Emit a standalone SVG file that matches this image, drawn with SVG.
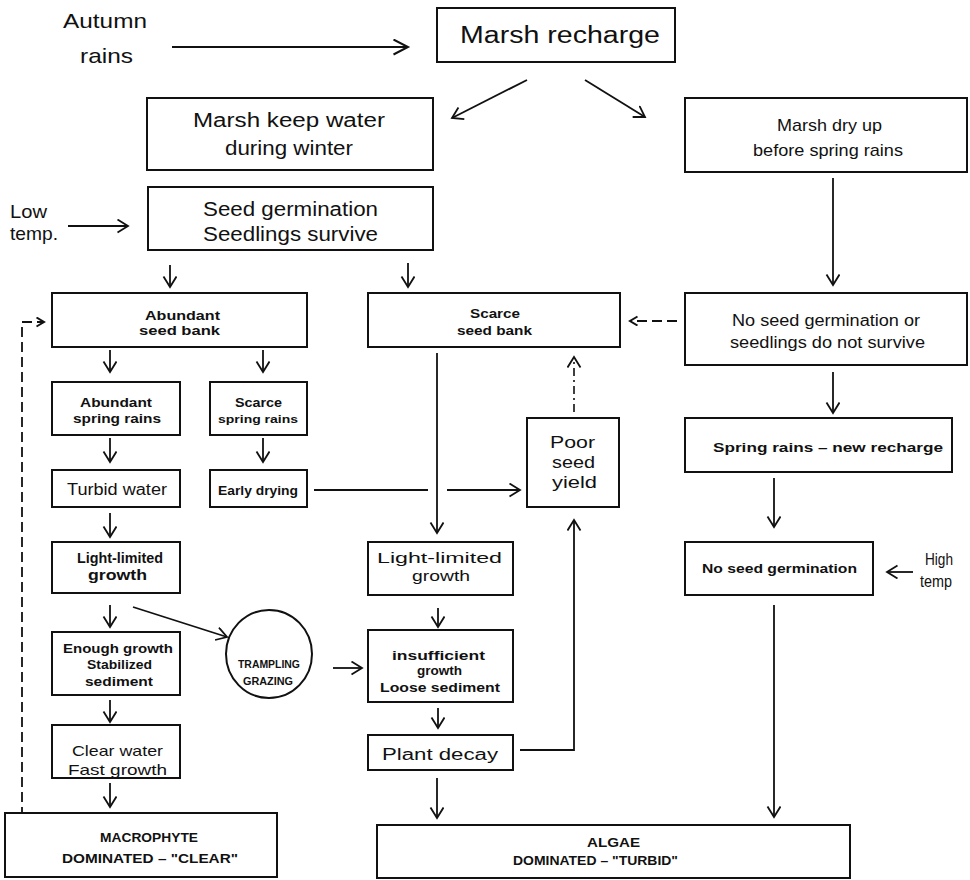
<svg xmlns="http://www.w3.org/2000/svg" width="970" height="880" viewBox="0 0 970 880">
  <defs>
    <style>
      .box { fill: #fff; stroke: #111; stroke-width: 2; }
      .ln { fill: none; stroke: #111; stroke-width: 1.8; }
      .dash { fill: none; stroke: #111; stroke-width: 1.8; stroke-dasharray: 10 5; }
      .dashdot { fill: none; stroke: #111; stroke-width: 1.6; stroke-dasharray: 8 4 2 4; }
      text { font-family: "Liberation Sans", Arial, sans-serif; fill: #111; text-anchor: middle; }
      .s { font-weight: bold; }
      .l { text-anchor: start; }
    </style>
    <marker id="ah" markerUnits="userSpaceOnUse" markerWidth="14" markerHeight="16" refX="11" refY="7" orient="auto">
      <path d="M0.5,0.5 L11,7 L0.5,13.5" fill="none" stroke="#111" stroke-width="1.8"/>
    </marker>
    <marker id="ahb" markerUnits="userSpaceOnUse" markerWidth="18" markerHeight="18" refX="15" refY="8" orient="auto">
      <path d="M0.5,0.5 L15,8 L0.5,15.5" fill="none" stroke="#111" stroke-width="2"/>
    </marker>
    <marker id="ahs" markerUnits="userSpaceOnUse" markerWidth="12" markerHeight="12" refX="8" refY="5" orient="auto">
      <path d="M0.5,0.5 L8,5 L0.5,9.5" fill="none" stroke="#111" stroke-width="2"/>
    </marker>
  </defs>
  <rect width="970" height="880" fill="#fff"/>

  <!-- connectors -->
  <g id="connectors">
    <line class="ln" x1="172" y1="47" x2="408" y2="47" marker-end="url(#ahb)"/>
    <line class="ln" x1="527" y1="80" x2="452" y2="118" marker-end="url(#ah)"/>
    <line class="ln" x1="585" y1="80" x2="645" y2="117" marker-end="url(#ah)"/>
    <line class="ln" x1="68" y1="226" x2="128" y2="226" marker-end="url(#ah)"/>
    <line class="ln" x1="833" y1="178" x2="833" y2="285" marker-end="url(#ah)"/>
    <line class="ln" x1="170" y1="265" x2="170" y2="287" marker-end="url(#ah)"/>
    <line class="ln" x1="408" y1="263" x2="408" y2="287" marker-end="url(#ah)"/>
    <line class="ln" x1="110" y1="350" x2="110" y2="372" marker-end="url(#ah)"/>
    <line class="ln" x1="263" y1="350" x2="263" y2="372" marker-end="url(#ah)"/>
    <line class="ln" x1="110" y1="438" x2="110" y2="462" marker-end="url(#ah)"/>
    <line class="ln" x1="263" y1="438" x2="263" y2="462" marker-end="url(#ah)"/>
    <!-- early drying to poor seed yield, broken where it crosses the vertical line -->
    <line class="ln" x1="314" y1="490" x2="428" y2="490"/>
    <line class="ln" x1="447" y1="490" x2="520" y2="490" marker-end="url(#ah)"/>
    <line class="ln" x1="437" y1="353" x2="437" y2="533" marker-end="url(#ah)"/>
    <line class="dashdot" x1="574" y1="412" x2="574" y2="357" marker-end="url(#ah)"/>
    <line class="dash" x1="677" y1="321" x2="630" y2="321" marker-end="url(#ahs)"/>
    <line class="ln" x1="833" y1="372" x2="833" y2="413" marker-end="url(#ah)"/>
    <line class="ln" x1="774" y1="478" x2="774" y2="527" marker-end="url(#ah)"/>
    <line class="ln" x1="913" y1="572" x2="887" y2="572" marker-end="url(#ah)"/>
    <line class="ln" x1="774" y1="605" x2="774" y2="817" marker-end="url(#ah)"/>
    <line class="ln" x1="110" y1="513" x2="110" y2="537" marker-end="url(#ah)"/>
    <line class="ln" x1="110" y1="605" x2="110" y2="627" marker-end="url(#ah)"/>
    <line class="ln" x1="133" y1="607" x2="227" y2="637" marker-end="url(#ah)"/>
    <line class="ln" x1="110" y1="700" x2="110" y2="722" marker-end="url(#ah)"/>
    <line class="ln" x1="110" y1="783" x2="110" y2="807" marker-end="url(#ah)"/>
    <path class="dash" d="M22,817 V322 H44" marker-end="url(#ahs)"/>
    <line class="ln" x1="333" y1="668" x2="362" y2="668" marker-end="url(#ah)"/>
    <line class="ln" x1="438" y1="608" x2="438" y2="627" marker-end="url(#ah)"/>
    <line class="ln" x1="438" y1="708" x2="438" y2="728" marker-end="url(#ah)"/>
    <path class="ln" d="M520,750 H574 V520" marker-end="url(#ah)"/>
    <line class="ln" x1="437" y1="778" x2="437" y2="818" marker-end="url(#ah)"/>
  </g>

  <!-- free labels -->
  <g id="autumn-rains">
    <text x="105" y="28" font-size="21" textLength="84" lengthAdjust="spacingAndGlyphs">Autumn</text>
    <text x="106.5" y="63" font-size="21" textLength="53" lengthAdjust="spacingAndGlyphs">rains</text>
  </g>
  <g id="low-temp">
    <text class="l" x="10" y="218" font-size="19" textLength="37" lengthAdjust="spacingAndGlyphs">Low</text>
    <text class="l" x="10" y="240" font-size="19" textLength="48" lengthAdjust="spacingAndGlyphs">temp.</text>
  </g>
  <g id="high-temp">
    <text class="l" x="925" y="565" font-size="17" textLength="28" lengthAdjust="spacingAndGlyphs">High</text>
    <text class="l" x="920" y="587" font-size="17" textLength="32" lengthAdjust="spacingAndGlyphs">temp</text>
  </g>

  <!-- nodes -->
  <g id="marsh-recharge">
    <rect class="box" x="437" y="8" width="238" height="54"/>
    <text x="560" y="43" font-size="23" textLength="200" lengthAdjust="spacingAndGlyphs">Marsh recharge</text>
  </g>
  <g id="marsh-keep-water">
    <rect class="box" x="147" y="98" width="286" height="72"/>
    <text x="289" y="127" font-size="20" textLength="192" lengthAdjust="spacingAndGlyphs">Marsh keep water</text>
    <text x="289" y="155" font-size="20" textLength="128" lengthAdjust="spacingAndGlyphs">during winter</text>
  </g>
  <g id="marsh-dry-up">
    <rect class="box" x="685" y="98" width="282" height="74"/>
    <text x="829.5" y="131" font-size="17" textLength="105" lengthAdjust="spacingAndGlyphs">Marsh dry up</text>
    <text x="828" y="156" font-size="17" textLength="150" lengthAdjust="spacingAndGlyphs">before spring rains</text>
  </g>
  <g id="seed-germination">
    <rect class="box" x="148" y="187" width="285" height="63"/>
    <text x="290.5" y="216" font-size="20" textLength="175" lengthAdjust="spacingAndGlyphs">Seed germination</text>
    <text x="290.5" y="241" font-size="20" textLength="175" lengthAdjust="spacingAndGlyphs">Seedlings survive</text>
  </g>
  <g id="abundant-seed-bank">
    <rect class="box" x="52" y="293" width="255" height="54"/>
    <text class="s" x="182.5" y="320" font-size="12" textLength="75" lengthAdjust="spacingAndGlyphs">Abundant</text>
    <text class="s" x="179.5" y="335" font-size="12" textLength="81" lengthAdjust="spacingAndGlyphs">seed bank</text>
  </g>
  <g id="scarce-seed-bank">
    <rect class="box" x="368" y="293" width="252" height="54"/>
    <text class="s" x="495" y="318" font-size="12" textLength="50" lengthAdjust="spacingAndGlyphs">Scarce</text>
    <text class="s" x="494.5" y="335" font-size="12" textLength="75" lengthAdjust="spacingAndGlyphs">seed bank</text>
  </g>
  <g id="no-germination-or-survival">
    <rect class="box" x="685" y="293" width="282" height="72"/>
    <text x="826" y="326" font-size="16" textLength="188" lengthAdjust="spacingAndGlyphs">No seed germination or</text>
    <text x="827.5" y="348" font-size="16" textLength="195" lengthAdjust="spacingAndGlyphs">seedlings do not survive</text>
  </g>
  <g id="abundant-spring-rains">
    <rect class="box" x="52" y="382" width="128" height="53"/>
    <text class="s" x="116" y="407" font-size="12" textLength="72" lengthAdjust="spacingAndGlyphs">Abundant</text>
    <text class="s" x="117" y="423" font-size="12" textLength="88" lengthAdjust="spacingAndGlyphs">spring rains</text>
  </g>
  <g id="scarce-spring-rains">
    <rect class="box" x="210" y="382" width="97" height="53"/>
    <text class="s" x="258.5" y="407" font-size="12" textLength="47" lengthAdjust="spacingAndGlyphs">Scarce</text>
    <text class="s" x="258" y="423" font-size="11" textLength="80" lengthAdjust="spacingAndGlyphs">spring rains</text>
  </g>
  <g id="turbid-water">
    <rect class="box" x="52" y="470" width="128" height="37"/>
    <text x="117" y="495" font-size="16" textLength="100" lengthAdjust="spacingAndGlyphs">Turbid water</text>
  </g>
  <g id="early-drying">
    <rect class="box" x="210" y="470" width="97" height="37"/>
    <text class="s" x="258" y="495" font-size="12" textLength="80" lengthAdjust="spacingAndGlyphs">Early drying</text>
  </g>
  <g id="poor-seed-yield">
    <rect class="box" x="527" y="418" width="92" height="89"/>
    <text x="572.5" y="448" font-size="17" textLength="45" lengthAdjust="spacingAndGlyphs">Poor</text>
    <text x="573.5" y="468" font-size="17" textLength="43" lengthAdjust="spacingAndGlyphs">seed</text>
    <text x="574.5" y="488" font-size="17" textLength="45" lengthAdjust="spacingAndGlyphs">yield</text>
  </g>
  <g id="spring-rains-recharge">
    <rect class="box" x="685" y="418" width="267" height="54"/>
    <text class="s" x="828" y="452" font-size="13" textLength="230" lengthAdjust="spacingAndGlyphs">Spring rains – new recharge</text>
  </g>
  <g id="light-limited-left">
    <rect class="box" x="52" y="542" width="128" height="51"/>
    <text class="s" x="120" y="563" font-size="14" textLength="86" lengthAdjust="spacingAndGlyphs">Light-limited</text>
    <text class="s" x="117.5" y="580" font-size="14" textLength="59" lengthAdjust="spacingAndGlyphs">growth</text>
  </g>
  <g id="light-limited-middle">
    <rect class="box" x="368" y="542" width="145" height="53"/>
    <text x="439.5" y="563" font-size="15" textLength="125" lengthAdjust="spacingAndGlyphs">Light-limited</text>
    <text x="441" y="581" font-size="15" textLength="58" lengthAdjust="spacingAndGlyphs">growth</text>
  </g>
  <g id="no-seed-germination">
    <rect class="box" x="685" y="542" width="188" height="53"/>
    <text class="s" x="779.5" y="573" font-size="12" textLength="155" lengthAdjust="spacingAndGlyphs">No seed germination</text>
  </g>
  <g id="enough-growth">
    <rect class="box" x="52" y="632" width="128" height="63"/>
    <text class="s" x="118" y="653" font-size="12" textLength="110" lengthAdjust="spacingAndGlyphs">Enough growth</text>
    <text class="s" x="119.5" y="669" font-size="12" textLength="65" lengthAdjust="spacingAndGlyphs">Stabilized</text>
    <text class="s" x="119" y="686" font-size="12" textLength="68" lengthAdjust="spacingAndGlyphs">sediment</text>
  </g>
  <g id="trampling-grazing">
    <ellipse class="box" cx="269" cy="654" rx="43" ry="44"/>
    <text class="s" x="269" y="668" font-size="10" textLength="62" lengthAdjust="spacingAndGlyphs">TRAMPLING</text>
    <text class="s" x="268" y="685" font-size="10" textLength="50" lengthAdjust="spacingAndGlyphs">GRAZING</text>
  </g>
  <g id="insufficient-growth">
    <rect class="box" x="368" y="630" width="145" height="72"/>
    <text class="s" x="438.5" y="660" font-size="12" textLength="93" lengthAdjust="spacingAndGlyphs">insufficient</text>
    <text class="s" x="439.5" y="675" font-size="12" textLength="45" lengthAdjust="spacingAndGlyphs">growth</text>
    <text class="s" x="440" y="692" font-size="12" textLength="120" lengthAdjust="spacingAndGlyphs">Loose sediment</text>
  </g>
  <g id="clear-water">
    <rect class="box" x="52" y="725" width="128" height="53"/>
    <text x="117.5" y="756" font-size="15" textLength="91" lengthAdjust="spacingAndGlyphs">Clear water</text>
    <text x="117.5" y="775" font-size="15" textLength="99" lengthAdjust="spacingAndGlyphs">Fast growth</text>
  </g>
  <g id="plant-decay">
    <rect class="box" x="368" y="735" width="145" height="35"/>
    <text x="440" y="760" font-size="16" textLength="116" lengthAdjust="spacingAndGlyphs">Plant decay</text>
  </g>
  <g id="macrophyte-dominated">
    <rect class="box" x="5" y="813" width="272" height="64"/>
    <text class="s" x="149" y="842" font-size="12" textLength="98" lengthAdjust="spacingAndGlyphs">MACROPHYTE</text>
    <text class="s" x="150" y="863" font-size="12" textLength="176" lengthAdjust="spacingAndGlyphs">DOMINATED – "CLEAR"</text>
  </g>
  <g id="algae-dominated">
    <rect class="box" x="377" y="825" width="473" height="53"/>
    <text class="s" x="613.5" y="847" font-size="12" textLength="53" lengthAdjust="spacingAndGlyphs">ALGAE</text>
    <text class="s" x="595.5" y="865" font-size="12" textLength="165" lengthAdjust="spacingAndGlyphs">DOMINATED – "TURBID"</text>
  </g>
</svg>
